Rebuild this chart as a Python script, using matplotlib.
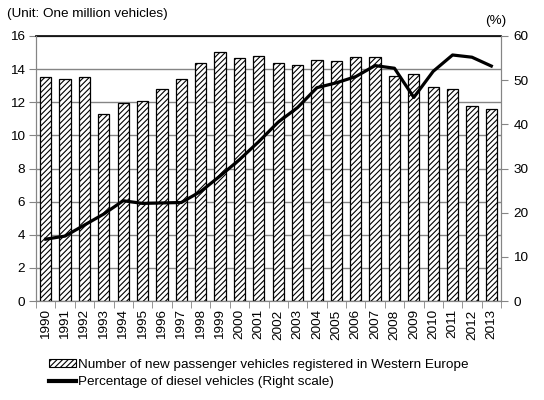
import numpy as np
import matplotlib
matplotlib.use('Agg')
import matplotlib.pyplot as plt
from matplotlib.patches import Patch
from matplotlib.lines import Line2D

YEARS = [str(y) for y in range(1990, 2014)]
VEHICLES = [13.5, 13.4, 13.5, 11.3, 11.95, 12.05, 12.8, 13.4, 14.35, 15.05, 14.7, 14.8,
            14.4, 14.25, 14.55, 14.5, 14.75, 14.75, 13.6, 13.7, 12.95, 12.8, 11.8, 11.6]
DIESEL_PCT = [14.0, 14.7, 17.2, 19.7, 22.7, 22.1, 22.2, 22.3, 24.8, 28.3, 32.0, 36.1,
              40.5, 43.8, 48.3, 49.4, 50.8, 53.3, 52.7, 46.1, 52.0, 55.7, 55.2, 53.2]

LEFT_TICKS = list(range(0, 17, 2))
RIGHT_TICKS = list(range(0, 61, 10))

plt.rcParams['font.family'] = ['Liberation Sans', 'DejaVu Sans']
plt.rcParams['hatch.linewidth'] = 0.8

GRAY = '#858585'
FS = 9.7

fig = plt.figure(figsize=(5.44, 4.0), dpi=100)
ax = fig.add_axes([36/544, 1 - 301/400, (501-36)/544, (301-36)/400])

x = np.arange(len(YEARS))
ax.bar(x, VEHICLES, width=0.58, color='white', edgecolor='black', linewidth=0.9,
       hatch='//////', zorder=3)

ax.set_xlim(-0.5, len(YEARS) - 0.5)
ax.set_ylim(0, 16)
ax.set_yticks(LEFT_TICKS)
ax.set_yticklabels([str(t) for t in LEFT_TICKS], fontsize=FS)
ax.set_xticks(x)
ax.set_xticklabels(YEARS, rotation=90, fontsize=FS)
ax.tick_params(axis='x', which='major', length=0, pad=6)
ax.set_xticks(np.arange(-0.5, len(YEARS), 1), minor=True)
ax.tick_params(axis='x', which='minor', length=5, color=GRAY, direction='out')
ax.tick_params(axis='y', length=5, color=GRAY, direction='out', pad=3)
ax.yaxis.grid(True, color=GRAY, linewidth=1, zorder=0)
ax.set_axisbelow(True)

for s in ['left', 'bottom', 'right']:
    ax.spines[s].set_color(GRAY)
ax.spines['top'].set_color('black')
ax.spines['top'].set_linewidth(1.2)

ax2 = ax.twinx()
ax2.plot(x, DIESEL_PCT, color='black', linewidth=2.3, zorder=5, solid_joinstyle='round')
ax2.set_ylim(0, 60)
ax2.set_yticks(RIGHT_TICKS)
ax2.set_yticklabels([str(t) for t in RIGHT_TICKS], fontsize=FS)
ax2.tick_params(axis='y', length=5, color=GRAY, direction='out', pad=4)
for s in ['left', 'bottom', 'right']:
    ax2.spines[s].set_color(GRAY)
ax2.spines['top'].set_visible(False)

fig.text(7/544, 1 - 14/400, '(Unit: One million vehicles)', fontsize=FS, va='center', ha='left')
fig.text(496/544, 1 - 21/400, '(%)', fontsize=FS, va='center', ha='center')

handles = [Patch(facecolor='white', edgecolor='black', hatch='//////', linewidth=0.8),
           Line2D([0], [0], color='black', linewidth=3)]
labels = ['Number of new passenger vehicles registered in Western Europe',
          'Percentage of diesel vehicles (Right scale)']
fig.legend(handles, labels, loc='upper left', bbox_to_anchor=(49/544, 1 - 359/400),
           frameon=False, fontsize=FS, handlelength=2.0, handletextpad=0.15,
           labelspacing=0.4, borderaxespad=0, borderpad=0, handleheight=0.55)

fig.savefig('out.png', dpi=100)
